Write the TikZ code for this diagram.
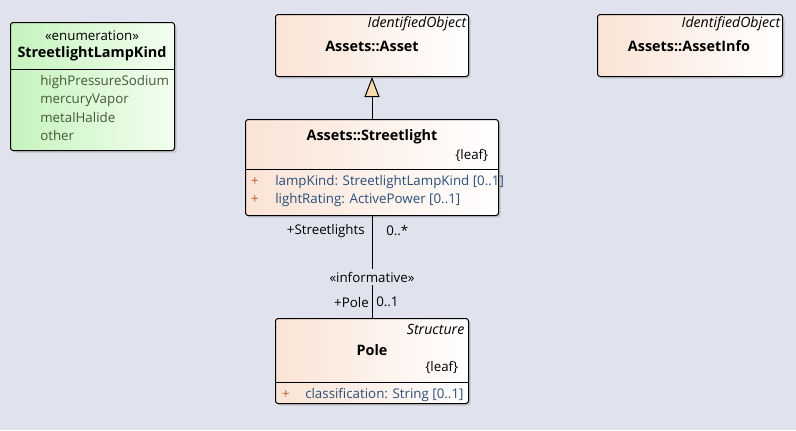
\documentclass[tikz,border=0pt]{standalone}
\usepackage{fontspec}
\setmainfont{Open Sans}
\usepackage{tikz}
\usetikzlibrary{arrows.meta}
\usetikzlibrary{shadows}
\definecolor{fond}{HTML}{E0E3ED}
\definecolor{classeG}{HTML}{FAE3D5}
\definecolor{enumG}{HTML}{C6F3BE}
\definecolor{enumD}{HTML}{F2FFF0}
\definecolor{attrib}{HTML}{2C4E78}
\definecolor{visib}{HTML}{C0602A}
\definecolor{litteral}{HTML}{46573A}
\definecolor{herit}{HTML}{F7DAAE}
\newcommand*{\pix}{0.75pt}
\tikzset{
	classe/.style ={draw=black,line width=0.75pt,rounded corners=2pt,left color=classeG,right color=white,
		anchor=north west,inner sep=0pt,drop shadow={shadow xshift=1.5pt,shadow yshift=-1.5pt,fill=black!35,opacity=0.5}},
	enum/.style ={classe,left color=enumG,right color=enumD},
	titre/.style ={font=\bfseries\fontsize{10.8}{12}\selectfont},
	stereo/.style ={font=\fontsize{10}{12}\selectfont},
	parent/.style ={font=\itshape\fontsize{10.6}{12}\selectfont,anchor=east},
	attr/.style ={font=\fontsize{10}{12}\selectfont,text=attrib,anchor=west,inner sep=0pt},
	plus/.style ={font=\fontsize{10}{12}\selectfont,text=visib,inner sep=0pt},
	role/.style ={font=\fontsize{10}{12}\selectfont,inner sep=0pt}
}
\begin{document}
\begin{tikzpicture}[x=\pix,y=-\pix]
	\useasboundingbox[fill=fond] (0,0) rectangle (796,430);

	% enumeration
	\node[enum,minimum width=164*\pix,minimum height=128*\pix] (kind) at (10,22) {};
	\node[stereo] (kindS) at (92,36) {«enumeration»};
	\node[titre] (kindT) at (92,54) {StreetlightLampKind};
	\draw[line width=0.75pt] (10,69)--(174,69);
	\node[attr,text=litteral] (k1) at (40,82) {highPressureSodium};
	\node[attr,text=litteral] (k2) at (40,100) {mercuryVapor};
	\node[attr,text=litteral] (k3) at (40,117) {metalHalide};
	\node[attr,text=litteral] (k4) at (40,135) {other};

	% Asset
	\node[classe,minimum width=193*\pix,minimum height=62*\pix] (asset) at (275,14) {};
	\node[parent] (assetP) at (471,24) {IdentifiedObject};
	\node[titre] (assetT) at (372,46) {Assets::Asset};

	% AssetInfo
	\node[classe,minimum width=185*\pix,minimum height=62*\pix] (info) at (597,14) {};
	\node[parent] (infoP) at (785,24) {IdentifiedObject};
	\node[titre] (infoT) at (689,46) {Assets::AssetInfo};

	% Streetlight
	\node[classe,minimum width=253*\pix,minimum height=96*\pix] (light) at (245,119) {};
	\node[titre] (lightT) at (372,137) {Assets::Streetlight};
	\node[stereo,anchor=east] (lightL) at (493,155) {\{leaf\}};
	\draw[line width=0.75pt] (245,169)--(498,169);
	\node[plus] (l1p) at (255,182) {+};
	\node[attr] (l1) at (275,182) {lampKind: StreetlightLampKind [0..1]};
	\node[plus] (l2p) at (255,200) {+};
	\node[attr] (l2) at (275,200) {lightRating: ActivePower [0..1]};

	% Pole
	\node[classe,minimum width=193*\pix,minimum height=85*\pix] (pole) at (275,318) {};
	\node[parent] (poleP) at (469,329) {Structure};
	\node[titre] (poleT) at (372,350) {Pole};
	\node[stereo,anchor=east] (poleL) at (463,367) {\{leaf\}};
	\draw[line width=0.75pt] (275,382)--(468,382);
	\node[plus] (p1p) at (286,395) {+};
	\node[attr] (p1) at (305,395) {classification: String [0..1]};

	% liens
	\draw[line width=0.75pt,-{Triangle[open,fill=herit,width=15*\pix,length=20*\pix]}] (light.north-|assetT)--(asset.south-|assetT);
	\draw[line width=0.75pt] (light.south-|assetT)--(pole.north-|assetT)
		node[pos=0.6,stereo,fill=fond,inner sep=2pt] (inf) {«informative»};
	\node[role,anchor=east] (r1) at (365,231) {+Streetlights};
	\node[role,anchor=west] (m1) at (386,231) {0..*};
	\node[role,anchor=east] (r2) at (369,302) {+Pole};
	\node[role,anchor=west] (m2) at (376,302) {0..1};
\end{tikzpicture}
\end{document}
